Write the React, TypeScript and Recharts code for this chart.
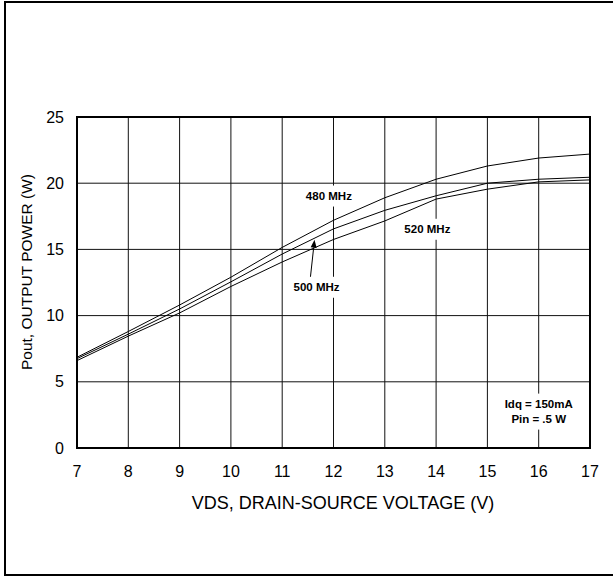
import { LineChart, Line, XAxis, YAxis, CartesianGrid, ReferenceArea, ReferenceDot, ReferenceLine, Label } from "recharts";

const voltage = [7, 8, 9, 10, 11, 12, 13, 14, 15, 16, 17];
const mhz480 = [6.85, 8.8, 10.8, 12.9, 15.15, 17.2, 18.9, 20.3, 21.3, 21.9, 22.2];
const mhz500 = [6.75, 8.6, 10.5, 12.55, 14.65, 16.55, 17.95, 19.05, 20.0, 20.3, 20.45];
const mhz520 = [6.6, 8.45, 10.2, 12.2, 14.05, 15.75, 17.15, 18.8, 19.55, 20.1, 20.25];

const xTicks = [7, 8, 9, 10, 11, 12, 13, 14, 15, 16, 17];
const yTicks = [0, 5, 10, 15, 20, 25];

// curve labels, placed in data units
const notes = [
  { x: 11.91, y: 19.03, lines: ["480 MHz"] },
  { x: 11.67, y: 12.14, lines: ["500 MHz"] },
  { x: 13.83, y: 16.52, lines: ["520 MHz"] },
  { x: 16.0, y: 2.75, lines: ["Idq = 150mA", "Pin = .5 W"] },
];

const arrow500 = [
  { x: 11.55, y: 12.9 },
  { x: 11.63, y: 15.73 },
];

const data = voltage.map((v, i) => ({ v, a: mhz480[i], b: mhz500[i], c: mhz520[i] }));

const FONT = "'Liberation Sans', Arial, sans-serif";

function NoteShape(props: any) {
  const { cx, cy, lines } = props;
  const lh = 15;
  const w = 64;
  const h = lines.length * lh + 6;
  const top = cy - (lines.length * lh) / 2;
  return (
    <g>
      <rect x={cx - w / 2} y={cy - h / 2} width={w} height={h} fill="#fff" />
      {lines.map((t: string, i: number) => (
        <text
          key={t}
          x={cx}
          y={top + i * lh + lh / 2 + 4}
          textAnchor="middle"
          fontSize={11.5}
          fontWeight="bold"
          fontFamily={FONT}
          fill="#000"
        >
          {t}
        </text>
      ))}
    </g>
  );
}

function ArrowShape(props: any) {
  const { x1, y1, x2, y2 } = props;
  const ang = Math.atan2(y2 - y1, x2 - x1);
  const len = 8;
  const wid = 3;
  const bx = x2 - len * Math.cos(ang);
  const by = y2 - len * Math.sin(ang);
  const px = -Math.sin(ang) * wid;
  const py = Math.cos(ang) * wid;
  return (
    <g>
      <line x1={x1} y1={y1} x2={bx} y2={by} stroke="#000" strokeWidth={1} />
      <polygon points={`${x2},${y2} ${bx + px},${by + py} ${bx - px},${by - py}`} fill="#000" />
    </g>
  );
}

export default function App() {
  return (
    <div style={{ position: "absolute", left: 0, top: 0, width: 613, height: 576, background: "#fff" }}>
      <div
        style={{
          position: "absolute",
          left: 4,
          top: 1,
          width: 609,
          height: 575,
          boxSizing: "border-box",
          border: "2px solid #000",
          borderRight: "none",
        }}
      />
      <div style={{ position: "absolute", left: 0, top: 0 }}>
        <LineChart
          width={613}
          height={576}
          data={data}
          margin={{ top: 117, right: 23, bottom: 98, left: 17 }}
          style={{ fontFamily: FONT }}
        >
          <CartesianGrid stroke="#111" strokeWidth={1} />
          <XAxis
            dataKey="v"
            type="number"
            domain={[7, 17]}
            ticks={xTicks}
            axisLine={false}
            tickLine={false}
            tickSize={0}
            tickMargin={18}
            tick={{ fontSize: 16, fill: "#000" }}
            height={30}
          >
            <Label
              content={() => (
                <text x={343} y={509} textAnchor="middle" fontSize={18} fontFamily={FONT} fill="#000">
                  VDS, DRAIN-SOURCE VOLTAGE (V)
                </text>
              )}
            />
          </XAxis>
          <YAxis
            type="number"
            domain={[0, 25]}
            ticks={yTicks}
            axisLine={false}
            tickLine={false}
            tickSize={0}
            tickMargin={13}
            tick={{ fontSize: 16, fill: "#000" }}
            width={60}
          >
            <Label
              content={() => (
                <text
                  x={32}
                  y={272}
                  transform="rotate(-90 32 272)"
                  textAnchor="middle"
                  fontSize={15.5}
                  fontFamily={FONT}
                  fill="#000"
                >
                  Pout, OUTPUT POWER (W)
                </text>
              )}
            />
          </YAxis>
          {notes.map((n) => (
            <ReferenceDot key={n.lines[0]} x={n.x} y={n.y} r={0} shape={(p: any) => <NoteShape {...p} lines={n.lines} />} />
          ))}
          <ReferenceArea x1={7} x2={17} y1={0} y2={25} fill="none" stroke="#000" strokeWidth={2} />
          <Line type="linear" dataKey="a" stroke="#000" strokeWidth={1} dot={false} isAnimationActive={false} />
          <Line type="linear" dataKey="b" stroke="#000" strokeWidth={1} dot={false} isAnimationActive={false} />
          <Line type="linear" dataKey="c" stroke="#000" strokeWidth={1} dot={false} isAnimationActive={false} />
          <ReferenceLine segment={arrow500} shape={(p: any) => <ArrowShape {...p} />} />
        </LineChart>
      </div>
    </div>
  );
}
